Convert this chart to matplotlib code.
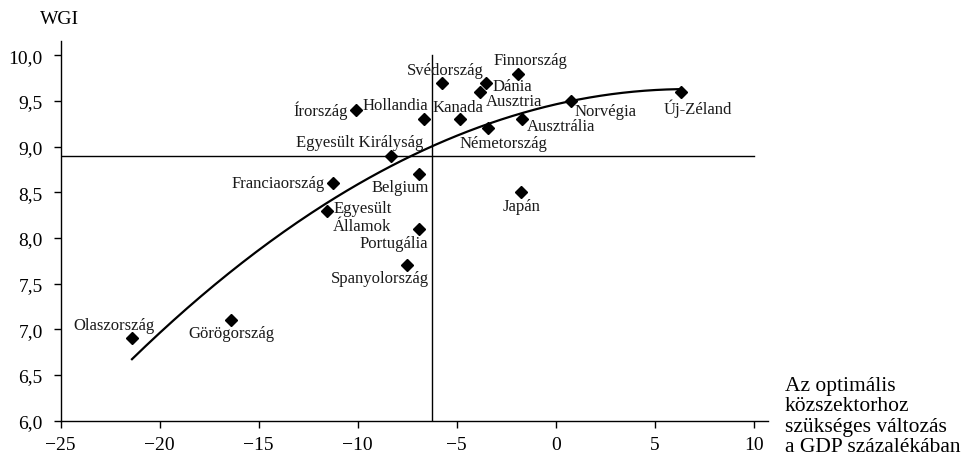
import numpy as np
import matplotlib
matplotlib.use("Agg")
import matplotlib.pyplot as plt

plt.rcParams['font.family'] = ['Liberation Serif', 'DejaVu Serif']

countries = ["Olaszország", "Görögország", "Spanyolország", "Portugália",
             "Egyesült\nÁllamok", "Franciaország", "Belgium", "Egyesült Királyság",
             "Írország", "Hollandia", "Kanada", "Svédország", "Finnország", "Dánia",
             "Ausztria", "Németország", "Ausztrália", "Norvégia", "Új-Zéland", "Japán"]
gdp_change = [-21.4, -16.4, -7.5, -6.9, -11.55, -11.25, -6.9, -8.3, -10.1, -6.65,
              -4.85, -5.75, -1.9, -3.5, -3.8, -3.4, -1.7, 0.75, 6.35, -1.75]
wgi = [6.9, 7.1, 7.7, 8.1, 8.3, 8.6, 8.7, 8.9, 9.4, 9.3,
       9.3, 9.7, 9.8, 9.7, 9.6, 9.2, 9.3, 9.5, 9.6, 8.5]

# fitted trend line
trend_x = [-21.4, -18.64, -16.95, -12.07, -7.36, -6.26, -2.81, 0.72, 3.25, 6.3]
trend_y = [6.67, 7.22, 7.55, 8.31, 8.90, 9.01, 9.26, 9.50, 9.61, 9.62]

xticks = [-25, -20, -15, -10, -5, 0, 5, 10]
xtick_labels = ["−25", "−20", "−15", "−10", "−5", "0", "5", "10"]
yticks = [6.0, 6.5, 7.0, 7.5, 8.0, 8.5, 9.0, 9.5, 10.0]
ytick_labels = ["6,0", "6,5", "7,0", "7,5", "8,0", "8,5", "9,0", "9,5", "10,0"]

ref_wgi = 8.9
ref_gdp = -6.26

# label placement: (dx px, dy px up, ha, va)
label_pos = {
    "Olaszország": (-18, 13, "center", "center"),
    "Görögország": (0, -13, "center", "center"),
    "Spanyolország": (-27, -13, "center", "center"),
    "Portugália": (-25, -14, "center", "center"),
    "Egyesült\nÁllamok": (6, -6.5, "left", "center"),
    "Franciaország": (-8, 0, "right", "center"),
    "Belgium": (-19, -13, "center", "center"),
    "Egyesült Királyság": (-32, 14, "center", "center"),
    "Írország": (-8, 0, "right", "center"),
    "Hollandia": (-29, 14, "center", "center"),
    "Kanada": (-1.5, 12, "center", "center"),
    "Svédország": (3, 13, "center", "center"),
    "Finnország": (12, 14, "center", "center"),
    "Dánia": (5.6, -3, "left", "center"),
    "Ausztria": (5, -9, "left", "center"),
    "Németország": (15, -15, "center", "center"),
    "Ausztrália": (5, -7, "left", "center"),
    "Norvégia": (4, -10, "left", "center"),
    "Új-Zéland": (16, -16, "center", "center"),
    "Japán": (0, -14, "center", "center"),
}

fig = plt.figure(figsize=(9.66, 4.6), dpi=100)
ax = fig.add_axes([60.7/966, 38.3/460, 707.3/966, 380/460])

ax.set_xlim(-25, 10.72)
ax.set_ylim(6.0, 10.16)

ax.plot([-25, 10], [ref_wgi, ref_wgi], color="black", lw=1.0, zorder=1)
ax.plot([ref_gdp, ref_gdp], [6.0, 10.0], color="black", lw=1.0, zorder=1)

coef = np.polyfit(trend_x, trend_y, 2)
xs = np.linspace(min(trend_x), max(trend_x), 200)
ax.plot(xs, np.polyval(coef, xs), color="black", lw=1.6, zorder=2)

ax.plot(gdp_change, wgi, linestyle="none", marker="D", markersize=6.2,
        color="black", zorder=3)

for name, xv, yv in zip(countries, gdp_change, wgi):
    dx, dy, ha, va = label_pos[name]
    ax.annotate(name, (xv, yv), xytext=(dx, dy), textcoords="offset pixels",
                ha=ha, va=va, fontsize=12, multialignment="center",
                color="#1a1a1a")

for s in ["top", "right"]:
    ax.spines[s].set_visible(False)
for s in ["left", "bottom"]:
    ax.spines[s].set_linewidth(1.0)

ax.set_xticks(xticks)
ax.set_xticklabels(xtick_labels, fontsize=14)
ax.set_yticks(yticks)
ax.set_yticklabels(ytick_labels, fontsize=14)
ax.tick_params(axis="both", direction="out", length=5, width=1.0)
ax.tick_params(axis="x", pad=6)
ax.tick_params(axis="y", pad=8)

fig.text(40/966, 1 - 20/460, "WGI", fontsize=14, va="center", ha="left")
fig.text(785/966, 1 - 377/460,
         "Az optimális\nközszektorhoz\nszükséges változás\na GDP százalékában",
         fontsize=15.5, va="top", ha="left", linespacing=1.1)

fig.savefig("out.png", dpi=100)
